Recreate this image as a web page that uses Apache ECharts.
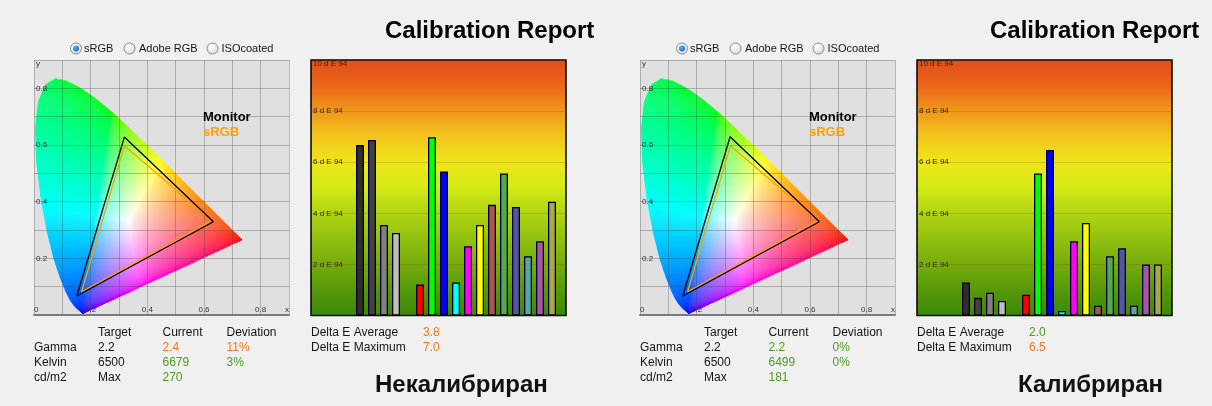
<!DOCTYPE html>
<html><head><meta charset="utf-8">
<script src="https://cdn.jsdelivr.net/npm/echarts@6.0.0/dist/echarts.min.js"></script>
<style>html,body{margin:0;padding:0;background:#f0f0f0;}#c{width:1212px;height:406px;}</style>
</head><body><div id="c"></div>
<script>
// CIE 1931 spectral locus (380..700 nm)
const locusX = [0.1741,0.1740,0.1738,0.1736,0.1733,0.1730,0.1726,0.1721,0.1714,0.1703,0.1689,0.1669,0.1644,0.1611,0.1566,0.1510,0.1440,0.1355,0.1241,0.1096,0.0913,0.0687,0.0454,0.0235,0.0082,0.0039,0.0139,0.0389,0.0743,0.1142,0.1547,0.1929,0.2296,0.2658,0.3016,0.3373,0.3731,0.4087,0.4441,0.4788,0.5125,0.5448,0.5752,0.6029,0.6270,0.6482,0.6658,0.6801,0.6915,0.7006,0.7079,0.7140,0.7190,0.7230,0.7260,0.7283,0.7300,0.7311,0.7320,0.7334,0.7347];
const locusY = [0.0050,0.0050,0.0049,0.0049,0.0048,0.0048,0.0048,0.0048,0.0051,0.0058,0.0069,0.0086,0.0109,0.0138,0.0177,0.0227,0.0297,0.0399,0.0578,0.0868,0.1327,0.2007,0.2950,0.4127,0.5384,0.6548,0.7502,0.8120,0.8338,0.8262,0.8059,0.7816,0.7543,0.7243,0.6923,0.6589,0.6245,0.5896,0.5547,0.5202,0.4866,0.4544,0.4242,0.3965,0.3725,0.3514,0.3340,0.3197,0.3083,0.2993,0.2920,0.2859,0.2809,0.2770,0.2740,0.2717,0.2700,0.2689,0.2680,0.2666,0.2653];

// Gamut triangles (R, G, B primaries)
const monitorX_before = [0.633, 0.319, 0.151];
const monitorY_before = [0.329, 0.628, 0.067];
const monitorX_after = [0.633, 0.318, 0.151];
const monitorY_after = [0.329, 0.629, 0.067];
const srgbX = [0.627, 0.319, 0.168];
const srgbY = [0.334, 0.597, 0.082];

// Delta E bars
const patchCategories = ['Gray 20','Gray 30','Gray 50','Gray 75','','Red','Green','Blue','Cyan','Magenta','Yellow','Red 50','Green 50','Blue 50','Cyan 50','Magenta 50','Yellow 50'];
const deltaBefore = [6.67, 6.87, 3.54, 3.23, null, 1.21, 6.98, 5.64, 1.29, 2.71, 3.54, 4.33, 5.56, 4.25, 2.32, 2.91, 4.45];
const deltaAfter  = [1.29, 0.69, 0.89, 0.57, null, 0.81, 5.56, 6.48, 0.18, 2.91, 3.62, 0.38, 2.32, 2.63, 0.38, 2.00, 2.00];

// Tables
const tableHeader = ['Target','Current','Deviation'];
const tableRowNames = ['Gamma','Kelvin','cd/m2'];
const tableTargets = ['2.2','6500','Max'];
const currentBefore = ['2.4','6679','270'];
const deviationBefore = ['11%','3%',''];
const currentAfter = ['2.2','6499','181'];
const deviationAfter = ['0%','0%',''];
const deltaAvg = [3.8, 2.0];
const deltaMax = [7.0, 6.5];
const radioOptions = ['sRGB','Adobe RGB','ISOcoated'];
const panelCaptions = ['Некалибриран','Калибриран'];
const reportTitle = 'Calibration Report';

// ---------- styles / layout ----------
const patchColors = ['#2e2e2e','#424242','#808080','#c0c0c0','#000','#ff0000','#00ff00','#0000ff','#00ffff','#ff00ff','#ffff00','#a85454','#54a854','#5454a8','#54a8a8','#a854a8','#a8a854'];
const ORANGE = '#f5781e', GREEN = '#4b9b1e', INK = '#141414';
const FONT = '"Liberation Sans", Arial, sans-serif';

function xyToRgb(x, y) {
  const yy = Math.max(y, 0.002);
  const X = x / yy, Z = (1 - x - y) / yy;
  let r = 2.3647 * X - 0.8966 - 0.4681 * Z;
  let g = -0.5152 * X + 1.4264 + 0.0888 * Z;
  let b = 0.0052 * X - 0.0144 + 1.0092 * Z;
  r = Math.max(0, r); g = Math.max(0, g); b = Math.max(0, b);
  const m = Math.max(r, g, b) || 1;
  const enc = c => { c /= m; c = c <= 0.0031308 ? 12.92 * c : 1.055 * Math.pow(c, 1 / 2.4) - 0.055; return Math.round(255 * Math.min(1, c)); };
  return 'rgb(' + enc(r) + ',' + enc(g) + ',' + enc(b) + ')';
}

function buildRows() {
  const n = locusX.length, rows = [], step = 0.0035;
  const ymax = Math.max.apply(null, locusY);
  for (let y0 = 0.0045; y0 < ymax; y0 += step) {
    const yc = Math.min(y0 + step / 2, ymax - 0.0005);
    const xs = [];
    for (let i = 0; i < n; i++) {
      const j = (i + 1) % n, ya = locusY[i], yb = locusY[j];
      if ((ya <= yc && yb > yc) || (yb <= yc && ya > yc)) {
        const t = (yc - ya) / (yb - ya);
        xs.push(locusX[i] + t * (locusX[j] - locusX[i]));
      }
    }
    if (xs.length < 2) continue;
    const xl = Math.min.apply(null, xs), xr = Math.max.apply(null, xs);
    const ns = Math.max(2, Math.ceil((xr - xl) / 0.006) + 1);
    const stops = [];
    for (let k = 0; k < ns; k++) { const t = k / (ns - 1); stops.push({ offset: t, color: xyToRgb(xl + t * (xr - xl), yc) }); }
    rows.push({ xl: xl, xr: xr, y0: y0, y1: y0 + step, stops: stops });
  }
  return rows;
}
const chromaRows = buildRows();

const barBg = { type: 'linear', x: 0, y: 0, x2: 0, y2: 1, colorStops: [
  { offset: 0, color: '#e44c1c' }, { offset: 0.1, color: '#ea6618' }, { offset: 0.2, color: '#f0961a' },
  { offset: 0.3, color: '#f2c41c' }, { offset: 0.4, color: '#eee61a' }, { offset: 0.5, color: '#d4ea16' },
  { offset: 0.6, color: '#b0d412' }, { offset: 0.7, color: '#92c010' }, { offset: 0.8, color: '#74ac0c' },
  { offset: 0.9, color: '#56980a' }, { offset: 1, color: '#3a8808' } ] };

const grids = [], xAxes = [], yAxes = [], series = [], graphics = [], legends = [];

function closed(xs, ys) { const d = xs.map((x, i) => [x, ys[i]]); d.push([xs[0], ys[0]]); return d; }

function textEl(x, y, text, font, fill, align) {
  return { type: 'text', x: x, y: y, silent: true, style: { text: text, font: font, fill: fill, align: align || 'left', verticalAlign: 'middle' } };
}

function addPanel(p, off, captionX, monX, monY, deltas, current, deviation) {
  // gamut diagram
  const g = grids.length;
  grids.push({ left: 34 + off, top: 60, width: 255, height: 255, show: true, backgroundColor: '#e0e0e0', borderWidth: 0 });
  xAxes.push({ gridIndex: g, type: 'value', min: 0, max: 0.9, interval: 0.1, z: 2,
    axisLine: { show: true, onZero: false, lineStyle: { color: '#7c7c7c', width: 2 } }, axisTick: { show: false },
    splitLine: { show: true, lineStyle: { color: 'rgba(70,70,70,0.33)', width: 1 } },
    axisLabel: { inside: true, margin: 1, fontSize: 8, color: '#333', fontFamily: FONT, showMaxLabel: true, showMinLabel: true,
      alignMinLabel: 'left', alignMaxLabel: 'right',
      formatter: v => { const k = Math.round(v * 10); if (k === 0) return '0'; if (k === 9) return 'x'; return k % 2 === 0 ? (k / 10).toFixed(1) : ''; } } });
  yAxes.push({ gridIndex: g, type: 'value', min: 0, max: 0.9, interval: 0.1, z: 2,
    axisLine: { show: false }, axisTick: { show: false },
    splitLine: { show: true, lineStyle: { color: 'rgba(70,70,70,0.33)', width: 1 } },
    axisLabel: { inside: true, margin: 2, fontSize: 8, color: '#333', fontFamily: FONT, showMaxLabel: true,
      verticalAlignMaxLabel: 'top',
      formatter: v => { const k = Math.round(v * 10); if (k === 0) return ''; if (k === 9) return 'y'; return k % 2 === 0 ? (k / 10).toFixed(1) : ''; } } });
  series.push({ type: 'custom', name: 'chromaticity', xAxisIndex: g, yAxisIndex: g, z: 1, silent: true, animation: false,
    data: chromaRows.map(r => [r.xl, r.y0]),
    renderItem: (params, api) => {
      const r = chromaRows[params.dataIndex];
      const a = api.coord([r.xl, r.y1]), b = api.coord([r.xr, r.y0]);
      return { type: 'rect', shape: { x: a[0], y: a[1] - 0.3, width: b[0] - a[0], height: b[1] - a[1] + 0.6 },
        style: { fill: { type: 'linear', x: 0, y: 0, x2: 1, y2: 0, colorStops: r.stops } } };
    } });
  series.push({ type: 'line', name: 'sRGB', xAxisIndex: g, yAxisIndex: g, z: 3, symbol: 'none', animation: false,
    data: closed(srgbX, srgbY), lineStyle: { color: '#ffa000', width: 1.3 }, itemStyle: { color: '#ffa000' } });
  series.push({ type: 'line', name: 'Monitor', xAxisIndex: g, yAxisIndex: g, z: 4, symbol: 'none', animation: false,
    data: closed(monX, monY), lineStyle: { color: '#000', width: 1.3 }, itemStyle: { color: '#000' } });
  legends.push({ left: 198 + off, top: 110, padding: 0, orient: 'vertical', icon: 'none', itemWidth: 0, itemHeight: 14, itemGap: 2,
    selectedMode: false, textStyle: { fontSize: 13, fontWeight: 'bold', fontFamily: FONT },
    data: [{ name: 'Monitor', textStyle: { color: '#000' } }, { name: 'sRGB', textStyle: { color: '#ffa000' } }] });

  // delta E frame
  const f = grids.length;
  grids.push({ left: 311 + off, top: 60, width: 255, height: 255.5, show: true, backgroundColor: barBg, borderColor: '#000', borderWidth: 1.5 });
  xAxes.push({ gridIndex: f, type: 'value', min: 0, max: 1, show: false });
  yAxes.push({ gridIndex: f, type: 'value', min: 0, max: 10, interval: 2,
    axisLine: { show: false }, axisTick: { show: false },
    splitLine: { show: true, lineStyle: { color: 'rgba(130,70,0,0.22)', width: 1 } },
    axisLabel: { inside: true, margin: 2, fontSize: 8, color: '#2a2a1a', fontFamily: FONT, showMaxLabel: true,
      verticalAlignMaxLabel: 'top', formatter: v => v === 0 ? '' : v + ' d E 94' } });
  // bars
  const b = grids.length;
  grids.push({ left: 354 + off, top: 60, width: 204, height: 255.5 });
  xAxes.push({ gridIndex: b, type: 'category', data: patchCategories, show: false });
  yAxes.push({ gridIndex: b, type: 'value', min: 0, max: 10, show: false });
  series.push({ type: 'bar', name: 'dE' + p, xAxisIndex: b, yAxisIndex: b, barWidth: 8, animation: false,
    data: deltas.map((v, i) => ({ value: v, itemStyle: { color: patchColors[i] } })),
    itemStyle: { borderColor: '#000', borderWidth: 1.3 } });

  // radio buttons
  const radioCx = [76, 129.5, 212.5], radioTx = [84, 139, 221.5];
  radioOptions.forEach((t, i) => {
    graphics.push({ type: 'circle', silent: true, shape: { cx: radioCx[i] + off, cy: 48.5, r: 5.5 },
      style: { fill: { type: 'radial', x: 0.4, y: 0.35, r: 0.8, colorStops: [{ offset: 0, color: '#ffffff' }, { offset: 1, color: '#d2d2d2' }] }, stroke: '#8a8a8a', lineWidth: 1 } });
    if (i === 0) graphics.push({ type: 'circle', silent: true, shape: { cx: radioCx[i] + off, cy: 48.5, r: 3 },
      style: { fill: { type: 'radial', x: 0.4, y: 0.35, r: 0.8, colorStops: [{ offset: 0, color: '#5fb4f0' }, { offset: 1, color: '#1a5a9a' }] } } });
    graphics.push(textEl(radioTx[i] + off, 48.5, t, '11px ' + FONT, INK));
  });

  // titles
  graphics.push(textEl(385 + off - (p ? 1 : 0), 31, reportTitle, 'bold 24px ' + FONT, '#000'));
  graphics.push(textEl(captionX, 385, panelCaptions[p], 'bold 24px ' + FONT, '#111'));

  // table
  const colX = [98, 162.5, 226.5], rowY = [348, 363, 378];
  const f12 = '12px ' + FONT;
  tableHeader.forEach((t, i) => graphics.push(textEl(colX[i] + off, 333, t, f12, INK)));
  tableRowNames.forEach((t, r) => {
    const dev = parseFloat(deviation[r]);
    const col = (!isNaN(dev) && dev > 5) ? ORANGE : GREEN;
    graphics.push(textEl(34 + off, rowY[r], t, f12, INK));
    graphics.push(textEl(colX[0] + off, rowY[r], tableTargets[r], f12, INK));
    graphics.push(textEl(colX[1] + off, rowY[r], current[r], f12, col));
    if (deviation[r]) graphics.push(textEl(colX[2] + off, rowY[r], deviation[r], f12, col));
  });
  graphics.push(textEl(311 + off, 333, 'Delta E Average', f12, INK));
  graphics.push(textEl(311 + off, 348, 'Delta E Maximum', f12, INK));
  graphics.push(textEl(423 + off, 333, deltaAvg[p].toFixed(1), f12, deltaAvg[p] > 3 ? ORANGE : GREEN));
  graphics.push(textEl(423 + off, 348, deltaMax[p].toFixed(1), f12, deltaMax[p] > 3 ? ORANGE : GREEN));
}

addPanel(0, 0, 375, monitorX_before, monitorY_before, deltaBefore, currentBefore, deviationBefore);
addPanel(1, 606, 1018, monitorX_after, monitorY_after, deltaAfter, currentAfter, deviationAfter);

const chart = echarts.init(document.getElementById('c'), null, { renderer: 'canvas' });
chart.setOption({
  backgroundColor: '#f0f0f0',
  animation: false,
  textStyle: { fontFamily: FONT },
  grid: grids, xAxis: xAxes, yAxis: yAxes, series: series, legend: legends,
  graphic: { elements: graphics }
});
</script></body></html>
